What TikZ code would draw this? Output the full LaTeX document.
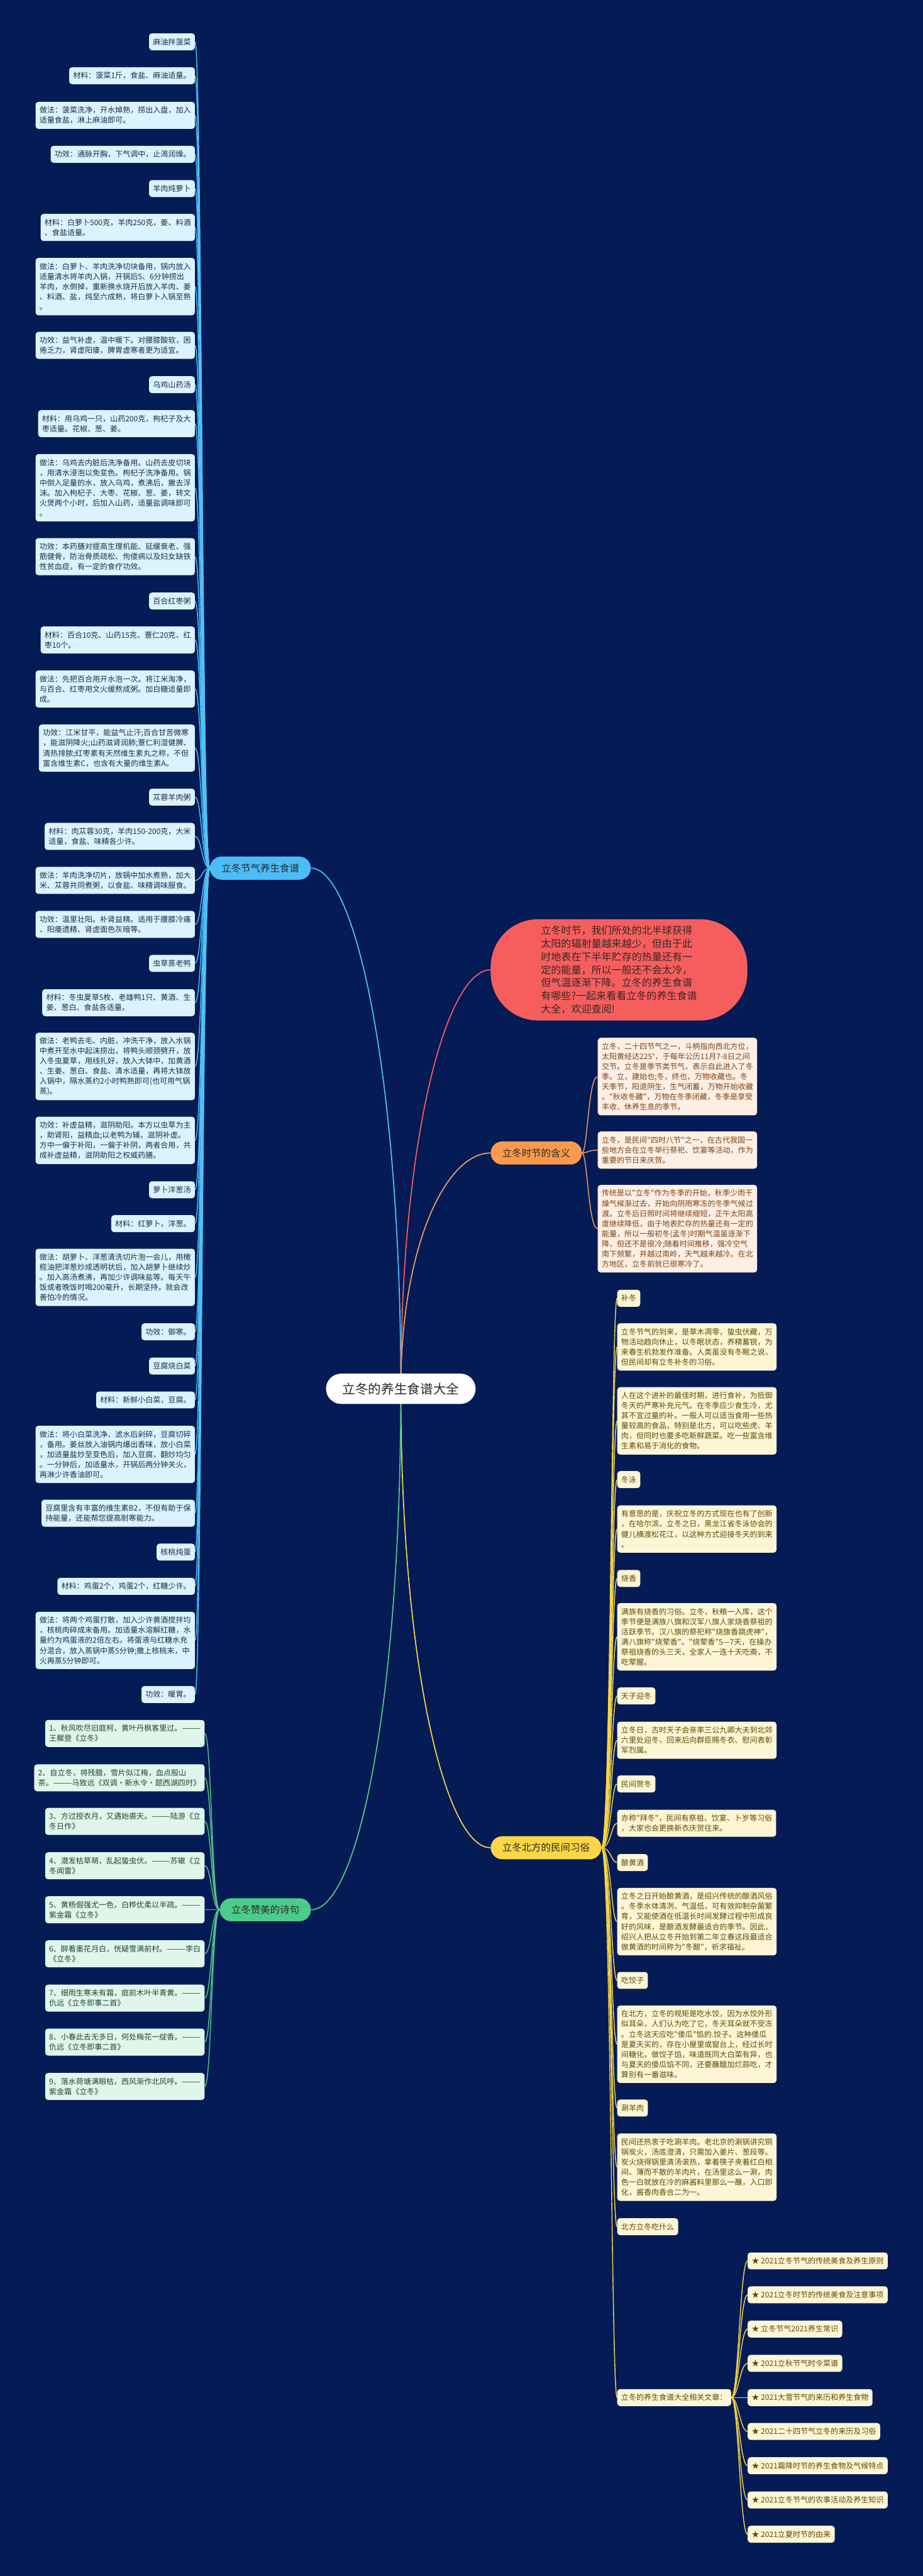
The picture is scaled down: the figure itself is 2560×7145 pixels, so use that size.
\documentclass[tikz,border=0pt]{standalone}
\usepackage{fontspec}
\newfontfamily\cjk{Noto Sans CJK SC}
\definecolor{bgc}{HTML}{041B55}
\definecolor{bluel}{HTML}{4FC0F8}
\definecolor{bluen}{HTML}{4CBCF7}
\definecolor{bleaf}{HTML}{DCF2FC}
\definecolor{bltext}{HTML}{1B2F4B}
\definecolor{redn}{HTML}{F65E5E}
\definecolor{redt}{HTML}{3A2626}
\definecolor{orn}{HTML}{F99A4D}
\definecolor{orl}{HTML}{F0A060}
\definecolor{oleaf}{HTML}{FDEFE4}
\definecolor{oltext}{HTML}{7D4316}
\definecolor{yen}{HTML}{FBD645}
\definecolor{yel}{HTML}{F6D548}
\definecolor{yleaf}{HTML}{FDF6D6}
\definecolor{yltext}{HTML}{5E4B06}
\definecolor{grn}{HTML}{4CCB8B}
\definecolor{grl}{HTML}{52C88C}
\definecolor{gleaf}{HTML}{E1F6EA}
\definecolor{gltext}{HTML}{224236}
\definecolor{darkt}{HTML}{2A2A2A}
\pgfdeclarelayer{bg}
\pgfsetlayers{bg,main}
\begin{document}
\begin{tikzpicture}[x=0.5pt,y=-0.5pt,
  nl/.style={minimum height={23.5pt+(#1-1)*14pt}}, nl/.default=1,
  leaf/.style={rounded corners=4pt, align=left, inner xsep=5.5pt, inner ysep=0pt, nl,
    font=\cjk\fontsize{10.5pt}{14pt}\selectfont},
  bl/.style={leaf, fill=bleaf, text=bltext, anchor=east},
  gl/.style={leaf, fill=gleaf, text=gltext, anchor=east},
  yl/.style={leaf, fill=yleaf, text=yltext, anchor=west},
  ol/.style={leaf, fill=oleaf, text=oltext, anchor=west},
  branchnode/.style={rounded corners=16pt, inner xsep=16pt, inner ysep=0pt, minimum height=32pt,
    font=\cjk\fontsize{13.5pt}{16pt}\selectfont, text=darkt},
  bline/.style={draw=bluel, line width=1.25pt},
  gline/.style={draw=grl, line width=1.25pt},
  yline/.style={draw=yel, line width=1.25pt},
  oline/.style={draw=orl, line width=1.25pt},
  mainline/.style={line width=1.5pt}
]
\begin{pgfonlayer}{bg}
\fill[bgc] (0,0) rectangle (2560,7145);
\end{pgfonlayer}
\useasboundingbox (0,0) rectangle (2560,7145);

% center
\node[fill=white, rounded corners=21pt, minimum width=207.5pt, minimum height=42pt, inner sep=0pt,
  font=\cjk\fontsize{18pt}{20pt}\selectfont, text=darkt] (c) at (1112,3852) {立冬的养生食谱大全};

% branch nodes
\node[branchnode, fill=bluen, anchor=west] (bb) at (582,2408) {立冬节气养生食谱};
\node[branchnode, fill=orn, anchor=west] (ob) at (1361,3198) {立冬时节的含义};
\node[branchnode, fill=yen, anchor=west] (yb) at (1361,5125) {立冬北方的民间习俗};
\node[branchnode, fill=grn, anchor=east] (gb) at (863,5297) {立冬赞美的诗句};
\node[fill=redn, rounded corners=66pt, minimum width=356pt, minimum height=140.5pt, inner sep=0pt,
  align=left, anchor=west, text=redt, font=\cjk\fontsize{14pt}{18.25pt}\selectfont] (rb) at (1361,2690)
  {立冬时节，我们所处的北半球获得\\太阳的辐射量越来越少，但由于此\\时地表在下半年贮存的热量还有一\\定的能量，所以一般还不会太冷，\\但气温逐渐下降。立冬的养生食谱\\有哪些?一起来看看立冬的养生食谱\\大全，欢迎查阅!};

% blue leaves
\node[bl] (b1) at (541,116) {麻油拌菠菜};
\node[bl] (b2) at (541,210) {材料：菠菜1斤，食盐、麻油适量。};
\node[bl,nl=2] (b3) at (541,320) {做法：菠菜洗净，开水焯熟，捞出入盘，加入\\适量食盐，淋上麻油即可。};
\node[bl] (b4) at (541,428) {功效：通脉开胸，下气调中，止渴润燥。};
\node[bl] (b5) at (541,523) {羊肉炖萝卜};
\node[bl,nl=2] (b6) at (541,631) {材料：白萝卜500克，羊肉250克，姜、料酒\\、食盐适量。};
\node[bl,nl=5] (b7) at (541,795) {做法：白萝卜、羊肉洗净切块备用，锅内放入\\适量清水将羊肉入锅，开锅后5、6分钟捞出\\羊肉，水倒掉，重新换水烧开后放入羊肉、姜\\、料酒、盐，炖至六成熟，将白萝卜入锅至熟\\。};
\node[bl,nl=2] (b8) at (541,958) {功效：益气补虚，温中暖下。对腰膝酸软，困\\倦乏力，肾虚阳痿，脾胃虚寒者更为适宜。};
\node[bl] (b9) at (541,1067) {乌鸡山药汤};
\node[bl,nl=2] (b10) at (541,1175) {材料：用乌鸡一只，山药200克，枸杞子及大\\枣适量。花椒、葱、姜。};
\node[bl,nl=6] (b11) at (541,1353) {做法：乌鸡去内脏后洗净备用。山药去皮切块\\，用清水浸泡以免变色。枸杞子洗净备用。锅\\中倒入足量的水，放入乌鸡，煮沸后，撇去浮\\沫。加入枸杞子、大枣、花椒、葱、姜，转文\\火煲两个小时，后加入山药，适量盐调味即可\\。};
\node[bl,nl=3] (b12) at (541,1544) {功效：本药膳对提高生理机能、延缓衰老、强\\筋健骨，防治骨质疏松、佝偻病以及妇女缺铁\\性贫血症，有一定的食疗功效。};
\node[bl] (b13) at (541,1667) {百合红枣粥};
\node[bl,nl=2] (b14) at (541,1775) {材料：百合10克、山药15克、薏仁20克、红\\枣10个。};
\node[bl,nl=3] (b15) at (541,1911) {做法：先把百合用开水泡一次。将江米淘净，\\与百合、红枣用文火缓熬成粥。加白糖适量即\\成。};
\node[bl,nl=4] (b16) at (541,2075) {功效：江米甘平，能益气止汗;百合甘苦微寒\\，能滋阴降火;山药滋肾润肺;薏仁利湿健脾、\\清热排脓;红枣素有天然维生素丸之称，不但\\富含维生素C，也含有大量的维生素A。};
\node[bl] (b17) at (541,2211) {苁蓉羊肉粥};
\node[bl,nl=2] (b18) at (541,2320) {材料：肉苁蓉30克，羊肉150-200克，大米\\适量，食盐、味精各少许。};
\node[bl,nl=2] (b19) at (541,2442) {做法：羊肉洗净切片，放锅中加水煮熟，加大\\米、苁蓉共同煮粥，以食盐、味精调味服食。};
\node[bl,nl=2] (b20) at (541,2564) {功效：温里壮阳。补肾益精。适用于腰膝冷痛\\、阳痿遗精、肾虚面色灰暗等。};
\node[bl] (b21) at (541,2672) {虫草蒸老鸭};
\node[bl,nl=2] (b22) at (541,2781) {材料：冬虫夏草5枚、老雄鸭1只、黄酒、生\\姜、葱白、食盐各适量。};
\node[bl,nl=6] (b23) at (541,2958) {做法：老鸭去毛、内脏，冲洗干净，放入水锅\\中煮开至水中起沫捞出，将鸭头顺颈劈开，放\\入冬虫夏草，用线扎好，放入大钵中，加黄酒\\、生姜、葱白、食盐、清水适量，再将大钵放\\入锅中，隔水蒸约2小时鸭熟即可(也可用气锅\\蒸)。};
\node[bl,nl=4] (b24) at (541,3163) {功效：补虚益精，滋阴助阳。本方以虫草为主\\，助肾阳，益精血;以老鸭为辅，滋阴补虚。\\方中一偏于补阳，一偏于补阴，两者合用，共\\成补虚益精，滋阴助阳之权威药膳。};
\node[bl] (b25) at (541,3300) {萝卜洋葱汤};
\node[bl] (b26) at (541,3394) {材料：红萝卜，洋葱。};
\node[bl,nl=5] (b27) at (541,3543) {做法：胡萝卜、洋葱清洗切片泡一会儿，用橄\\榄油把洋葱炒成透明状后，加入胡萝卜继续炒\\。加入高汤煮沸，再加少许调味盐等。每天午\\饭或者晚饭时喝200毫升，长期坚持，就会改\\善怕冷的情况。};
\node[bl] (b28) at (541,3694) {功效：御寒。};
\node[bl] (b29) at (541,3789) {豆腐烧白菜};
\node[bl] (b30) at (541,3883) {材料：新鲜小白菜，豆腐。};
\node[bl,nl=5] (b31) at (541,4034) {做法：将小白菜洗净、滤水后剁碎，豆腐切碎\\，备用。姜丝放入油锅内爆出香味，放小白菜\\，加适量盐炒至变色后，加入豆腐，翻炒均匀\\。一分钟后，加适量水，开锅后两分钟关火，\\再淋少许香油即可。};
\node[bl,nl=2] (b32) at (541,4197) {豆腐里含有丰富的维生素B2，不但有助于保\\持能量，还能帮您提高耐寒能力。};
\node[bl] (b33) at (541,4305) {核桃炖蛋};
\node[bl] (b34) at (541,4400) {材料：鸡蛋2个，鸡蛋2个，红糖少许。};
\node[bl,nl=5] (b35) at (541,4550) {做法：将两个鸡蛋打散，加入少许黄酒搅拌均\\，核桃肉碎成末备用。加适量水溶解红糖，水\\量约为鸡蛋液的2倍左右。将蛋液与红糖水充\\分混合，放入蒸锅中蒸5分钟;撒上核桃末，中\\火再蒸5分钟即可。};
\node[bl] (b36) at (541,4700) {功效：暖胃。};

% green leaves
\node[gl,nl=2] (g1) at (568,4808) {1、秋风吹尽旧庭柯，黄叶丹枫客里过。———\\王穉登《立冬》};
\node[gl,nl=2] (g2) at (568,4931) {2、自立冬，将残腊，雪片似江梅，血点般山\\茶。———马致远《双调·新水令·题西湖四时》};
\node[gl,nl=2] (g3) at (568,5052) {3、方过授衣月，又遇始裘天。———陆游《立\\冬日作》};
\node[gl,nl=2] (g4) at (568,5175) {4、潜发枯草萌，乱起蛰虫伏。———苏辙《立\\冬闻雷》};
\node[gl,nl=2] (g5) at (568,5297) {5、黄杨倔强尤一色，白桦优柔以半疏。———\\紫金霜《立冬》};
\node[gl,nl=2] (g6) at (568,5419) {6、醉看墨花月白，恍疑雪满前村。———李白\\《立冬》};
\node[gl,nl=2] (g7) at (568,5542) {7、细雨生寒未有霜，庭前木叶半青黄。———\\仇远《立冬即事二首》};
\node[gl,nl=2] (g8) at (568,5664) {8、小春此去无多日，何处梅花一绽香。———\\仇远《立冬即事二首》};
\node[gl,nl=2] (g9) at (568,5787) {9、落水荷塘满眼枯，西风渐作北风呼。———\\紫金霜《立冬》};

% orange leaves
\node[ol,nl=7] (o1) at (1658,2986) {立冬，二十四节气之一，斗柄指向西北方位，\\太阳黄经达225°，于每年公历11月7-8日之间\\交节。立冬是季节类节气，表示自此进入了冬\\季。立，建始也;冬，终也，万物收藏也。冬\\天季节，阳退阴生，生气闭蓄，万物开始收藏\\。"秋收冬藏"，万物在冬季闭藏，冬季是享受\\丰收、休养生息的季节。};
\node[ol,nl=3] (o2) at (1658,3190) {立冬，是民间"四时八节"之一，在古代我国一\\些地方会在立冬举行祭祀、饮宴等活动，作为\\重要的节日来庆贺。};
\node[ol,nl=8] (o3) at (1658,3408) {传统是以"立冬"作为冬季的开始，秋季少雨干\\燥气候渐过去，开始向阴雨寒冻的冬季气候过\\渡。立冬后日照时间将继续缩短，正午太阳高\\度继续降低，由于地表贮存的热量还有一定的\\能量，所以一般初冬(孟冬)时期气温虽逐渐下\\降，但还不是很冷;随着时间推移，强冷空气\\南下频繁，并越过南岭，天气越来越冷。在北\\方地区，立冬前就已很寒冷了。};

% yellow leaves
\node[yl] (y1) at (1712,3601) {补冬};
\node[yl,nl=4] (y2) at (1712,3736) {立冬节气的到来，是草木凋零，蛰虫伏藏，万\\物活动趋向休止，以冬眠状态，养精蓄锐，为\\来春生机勃发作准备。人类虽没有冬眠之说，\\但民间却有立冬补冬的习俗。};
\node[yl,nl=6] (y3) at (1712,3941) {人在这个进补的最佳时期，进行食补，为抵御\\冬天的严寒补充元气。在冬季应少食生冷，尤\\其不宜过量的补。一般人可以适当食用一些热\\量较高的食品，特别是北方，可以吃些虎、羊\\肉，但同时也要多吃新鲜蔬菜。吃一些富含维\\生素和易于消化的食物。};
\node[yl] (y4) at (1712,4104) {冬泳};
\node[yl,nl=4] (y5) at (1712,4241) {有意思的是，庆祝立冬的方式现在也有了创新\\，在哈尔滨，立冬之日，黑龙江省冬泳协会的\\健儿横渡松花江，以这种方式迎接冬天的到来\\。};
\node[yl] (y6) at (1712,4378) {烧香};
\node[yl,nl=6] (y7) at (1712,4540) {满族有烧香的习俗。立冬，秋粮一入库，这个\\季节便是满族八旗和汉军八旗人家烧香祭祖的\\活跃季节。汉八旗的祭祀称"烧旗香跳虎神"，\\满八旗称"烧荤香"。"烧荤香"5—7天，在操办\\祭祖烧香的头三天，全家人一连十天吃斋，不\\吃荤腥。};
\node[yl] (y8) at (1712,4704) {天子迎冬};
\node[yl,nl=3] (y9) at (1712,4827) {立冬日，古时天子会亲率三公九卿大夫到北郊\\六里处迎冬，回来后向群臣赐冬衣、慰问表彰\\军烈属。};
\node[yl] (y10) at (1712,4948) {民间贺冬};
\node[yl,nl=2] (y11) at (1712,5057) {亦称"拜冬"，民间有祭祖、饮宴、卜岁等习俗\\，大家也会更换新衣庆贺往来。};
\node[yl] (y12) at (1712,5166) {酿黄酒};
\node[yl,nl=6] (y13) at (1712,5330) {立冬之日开始酿黄酒，是绍兴传统的酿酒风俗\\。冬季水体清冽、气温低，可有效抑制杂菌繁\\育，又能使酒在低温长时间发酵过程中形成良\\好的风味，是酿酒发酵最适合的季节。因此，\\绍兴人把从立冬开始到第二年立春这段最适合\\做黄酒的时间称为"冬酿"，祈求福祉。};
\node[yl] (y14) at (1712,5493) {吃饺子};
\node[yl,nl=7] (y15) at (1712,5670) {在北方，立冬的规矩是吃水饺，因为水饺外形\\似耳朵，人们认为吃了它，冬天耳朵就不受冻\\。立冬这天应吃"倭瓜"馅的.饺子。这种倭瓜\\是夏天买的，存在小屋里或窗台上，经过长时\\间糖化，做饺子馅，味道既同大白菜有异，也\\与夏天的倭瓜馅不同，还要蘸醋加烂蒜吃，才\\算别有一番滋味。};
\node[yl] (y16) at (1712,5847) {涮羊肉};
\node[yl,nl=6] (y17) at (1712,6011) {民间还热衷于吃涮羊肉。老北京的涮锅讲究铜\\锅炭火，汤底澄清，只需加入姜片、葱段等。\\炭火烧得锅里清汤滚热，拿着筷子夹着红白相\\间、薄而不散的羊肉片，在汤里这么一涮，肉\\色一白就放在冷的麻酱料里那么一蘸，入口即\\化，酱香肉香合二为一。};
\node[yl] (y18) at (1712,6176) {北方立冬吃什么};
\node[yl] (y19) at (1712,6650) {立冬的养生食谱大全相关文章：};

% star items
\node[yl] (s1) at (2074,6271) {★ 2021立冬节气的传统美食及养生原则};
\node[yl] (s2) at (2074,6365) {★ 2021立冬时节的传统美食及注意事项};
\node[yl] (s3) at (2074,6460) {★ 立冬节气2021养生常识};
\node[yl] (s4) at (2074,6555) {★ 2021立秋节气时令菜谱};
\node[yl] (s5) at (2074,6650) {★ 2021大雪节气的来历和养生食物};
\node[yl] (s6) at (2074,6744) {★ 2021二十四节气立冬的来历及习俗};
\node[yl] (s7) at (2074,6839) {★ 2021霜降时节的养生食物及气候特点};
\node[yl] (s8) at (2074,6934) {★ 2021立冬节气的农事活动及养生知识};
\node[yl] (s9) at (2074,7029) {★ 2021立夏时节的由来};

\begin{pgfonlayer}{bg}
% main branches
\draw[mainline, bluel] (c.center) .. controls +(0,-865) and +(124,0) .. (bb.east);
\draw[mainline, redn] (c.center) .. controls +(0,-697) and +(-122,0) .. (rb.west);
\draw[mainline, orl] (c.center) .. controls +(0,-392) and +(-125,0) .. (ob.west);
\draw[mainline, yel] (c.center) .. controls +(0,765) and +(-125,0) .. (yb.west);
\draw[mainline, grl] (c.center) .. controls +(0,868) and +(130,0) .. (gb.east);
% leaves
\foreach \i in {1,...,36}{\draw[bline] (bb.west) .. controls +(-22,0) and +(19,0) .. (b\i.east);}
\foreach \i in {1,...,9}{\draw[gline] (gb.west) .. controls +(-22,0) and +(19,0) .. (g\i.east);}
\foreach \i in {1,...,3}{\draw[oline] (ob.east) .. controls +(15,0) and +(-26,0) .. (o\i.west);}
\foreach \i in {1,...,19}{\draw[yline] (yb.east) .. controls +(26,0) and +(-16,0) .. (y\i.west);}
\foreach \i in {1,...,9}{\draw[yline] (y19.east) .. controls +(20,0) and +(-21,0) .. (s\i.west);}
\end{pgfonlayer}
\end{tikzpicture}
\end{document}
